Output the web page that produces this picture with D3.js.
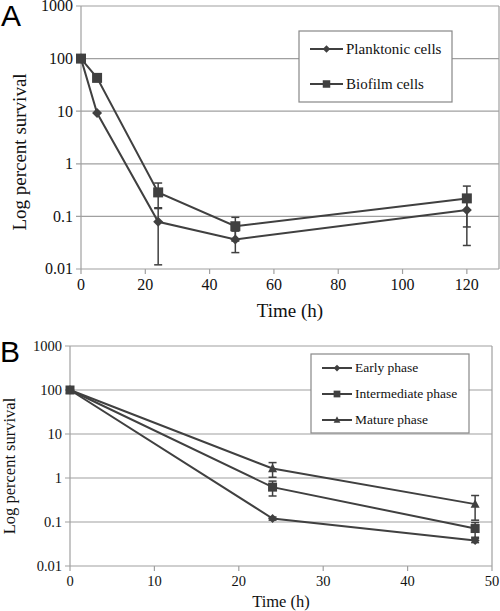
<!DOCTYPE html>
<html>
<head>
<meta charset="utf-8">
<script src="https://cdn.jsdelivr.net/npm/d3@7/dist/d3.min.js"></script>
<style>
  body { margin: 0; background: #fff; }
  svg { display: block; }
</style>
</head>
<body>
<svg id="chart" width="500" height="611"></svg>
<script>
// ---- Panel A data ----
const timesA = [0, 5, 24, 48, 120];
const planktonic = [100, 9.2, 0.079, 0.0365, 0.132];
const planktonicErr = [0, 0, 0.067, 0.016, 0.104];
const biofilm = [100, 43, 0.286, 0.065, 0.22];
const biofilmErr = [0, 0, 0.145, 0.031, 0.157];
const seriesNamesA = ["Planktonic cells", "Biofilm cells"];
const xTicksA = [0, 20, 40, 60, 80, 100, 120];

// ---- Panel B data ----
const timesB = [0, 24, 48];
const early = [100, 0.12, 0.038];
const earlyErr = [0, 0.01, 0.004];
const intermediate = [100, 0.62, 0.071];
const intermediateErr = [0, 0.23, 0.026];
const mature = [100, 1.64, 0.255];
const matureErr = [0, 0.6, 0.145];
const seriesNamesB = ["Early phase", "Intermediate phase", "Mature phase"];
const xTicksB = [0, 10, 20, 30, 40, 50];

const yTicks = [0.01, 0.1, 1, 10, 100, 1000];
const yTickLabels = ["0.01", "0.1", "1", "10", "100", "1000"];

const svg = d3.select("#chart");
const LINE = "#404040", GRID = "#a0a0a0", TXT = "#111";
const SERIF = "Liberation Serif";

function marker(g, shape, x, y, s) {
  if (shape === "diamond") {
    g.append("path").attr("d", `M${x},${y - s}L${x + s},${y}L${x},${y + s}L${x - s},${y}Z`).attr("fill", LINE);
  } else if (shape === "square") {
    g.append("rect").attr("x", x - s).attr("y", y - s).attr("width", 2 * s).attr("height", 2 * s).attr("fill", LINE);
  } else {
    g.append("path").attr("d", `M${x},${y - s * 1.1}L${x + s},${y + s * 0.8}L${x - s},${y + s * 0.8}Z`).attr("fill", LINE);
  }
}

function txt(g) {
  return g.append("text").attr("font-family", SERIF).attr("fill", TXT);
}

function panel(cfg) {
  const g = svg.append("g");
  const x = d3.scaleLinear().domain(cfg.xDomain).range([cfg.left, cfg.right]);
  const y = d3.scaleLog().domain([0.01, 1000]).range([cfg.bottom, cfg.top]);

  // grid lines
  g.selectAll("line.grid").data(yTicks).enter().append("line")
    .attr("x1", cfg.left - 5).attr("x2", cfg.right)
    .attr("y1", d => y(d)).attr("y2", d => y(d))
    .attr("stroke", GRID).attr("stroke-width", 1.2);
  // left axis & right border
  g.append("line").attr("x1", cfg.left).attr("x2", cfg.left).attr("y1", cfg.top).attr("y2", cfg.bottom)
    .attr("stroke", GRID).attr("stroke-width", 1.2);
  g.append("line").attr("x1", cfg.right).attr("x2", cfg.right).attr("y1", cfg.top).attr("y2", cfg.bottom)
    .attr("stroke", GRID).attr("stroke-width", 1.2);
  // x ticks
  g.selectAll("line.xt").data(cfg.xTicks).enter().append("line")
    .attr("x1", d => x(d)).attr("x2", d => x(d)).attr("y1", cfg.bottom).attr("y2", cfg.bottom + 5)
    .attr("stroke", GRID).attr("stroke-width", 1.2);
  cfg.xTicks.forEach(d => {
    txt(g).attr("x", x(d)).attr("y", cfg.bottom + cfg.tickSize + 5)
      .attr("text-anchor", "middle").attr("font-size", cfg.tickSize).text(d);
  });
  yTicks.forEach((d, i) => {
    txt(g).attr("x", cfg.left - 8).attr("y", y(d) + cfg.tickSize * 0.34)
      .attr("text-anchor", "end").attr("font-size", cfg.tickSize).text(yTickLabels[i]);
  });

  // axis titles
  txt(g).attr("x", (cfg.left + cfg.right) / 2).attr("y", cfg.xTitleY)
    .attr("text-anchor", "middle").attr("font-size", cfg.titleSize).text("Time (h)");
  txt(g).attr("transform", `translate(${cfg.yTitleX},${cfg.yTitleCY}) rotate(-90)`)
    .attr("text-anchor", "middle").attr("font-size", cfg.titleSize).text("Log percent survival");

  // panel letter
  g.append("text").attr("x", cfg.letterX).attr("y", cfg.letterY)
    .attr("font-family", "Liberation Sans").attr("font-size", 30)
    .attr("fill", "#000").text(cfg.letter);

  // series
  cfg.series.forEach(s => {
    const pts = cfg.times.map((t, i) => [t, s.values[i], s.err[i]]);
    g.append("path").datum(pts)
      .attr("d", d3.line().x(d => x(d[0])).y(d => y(d[1])))
      .attr("fill", "none").attr("stroke", LINE).attr("stroke-width", 2);
    pts.forEach(p => {
      if (p[2] > 0) {
        const lo = Math.max(p[1] - p[2], 0.0101), hi = p[1] + p[2];
        const cx = x(p[0]);
        g.append("line").attr("x1", cx).attr("x2", cx).attr("y1", y(lo)).attr("y2", y(hi)).attr("stroke", LINE).attr("stroke-width", 1.5);
        [lo, hi].forEach(v => g.append("line").attr("x1", cx - 4).attr("x2", cx + 4).attr("y1", y(v)).attr("y2", y(v)).attr("stroke", LINE).attr("stroke-width", 1.5));
      }
    });
    pts.forEach(p => marker(g, s.shape, x(p[0]), y(p[1]), s.size));
  });

  // legend
  const L = cfg.legend;
  g.append("rect").attr("x", L.x).attr("y", L.y).attr("width", L.w).attr("height", L.h)
    .attr("fill", "#fff").attr("stroke", "#888").attr("stroke-width", 1.2);
  cfg.series.forEach((s, i) => {
    const ly = L.y + L.first + i * L.step;
    g.append("line").attr("x1", L.x + L.lineX0).attr("x2", L.x + L.lineX1).attr("y1", ly).attr("y2", ly)
      .attr("stroke", LINE).attr("stroke-width", 2);
    marker(g, s.shape, L.x + (L.lineX0 + L.lineX1) / 2, ly, s.size * 0.75);
    txt(g).attr("x", L.x + L.textX).attr("y", ly + L.fontSize * 0.33)
      .attr("font-size", L.fontSize).text(s.name);
  });
}

panel({
  letter: "A", letterX: 1, letterY: 26,
  xDomain: [0, 130], left: 81, right: 499, top: 6, bottom: 269,
  xTicks: xTicksA, times: timesA, tickSize: 16, titleSize: 19,
  xTitleY: 317, yTitleX: 26, yTitleCY: 152,
  series: [
    { name: seriesNamesA[0], values: planktonic, err: planktonicErr, shape: "diamond", size: 5 },
    { name: seriesNamesA[1], values: biofilm, err: biofilmErr, shape: "square", size: 5 }
  ],
  legend: { x: 299, y: 31, w: 153, h: 71, first: 18, step: 35, lineX0: 11, lineX1: 44, textX: 47, fontSize: 15 }
});

panel({
  letter: "B", letterX: 0, letterY: 362,
  xDomain: [0, 50], left: 70, right: 492, top: 346, bottom: 566,
  xTicks: xTicksB, times: timesB, tickSize: 14.5, titleSize: 16.5,
  xTitleY: 607, yTitleX: 15, yTitleCY: 466,
  series: [
    { name: seriesNamesB[0], values: early, err: earlyErr, shape: "diamond", size: 4.5 },
    { name: seriesNamesB[1], values: intermediate, err: intermediateErr, shape: "square", size: 4.5 },
    { name: seriesNamesB[2], values: mature, err: matureErr, shape: "triangle", size: 4.5 }
  ],
  legend: { x: 311, y: 354, w: 158, h: 79, first: 14, step: 26, lineX0: 11, lineX1: 41, textX: 44, fontSize: 13.5 }
});
</script>
</body>
</html>
